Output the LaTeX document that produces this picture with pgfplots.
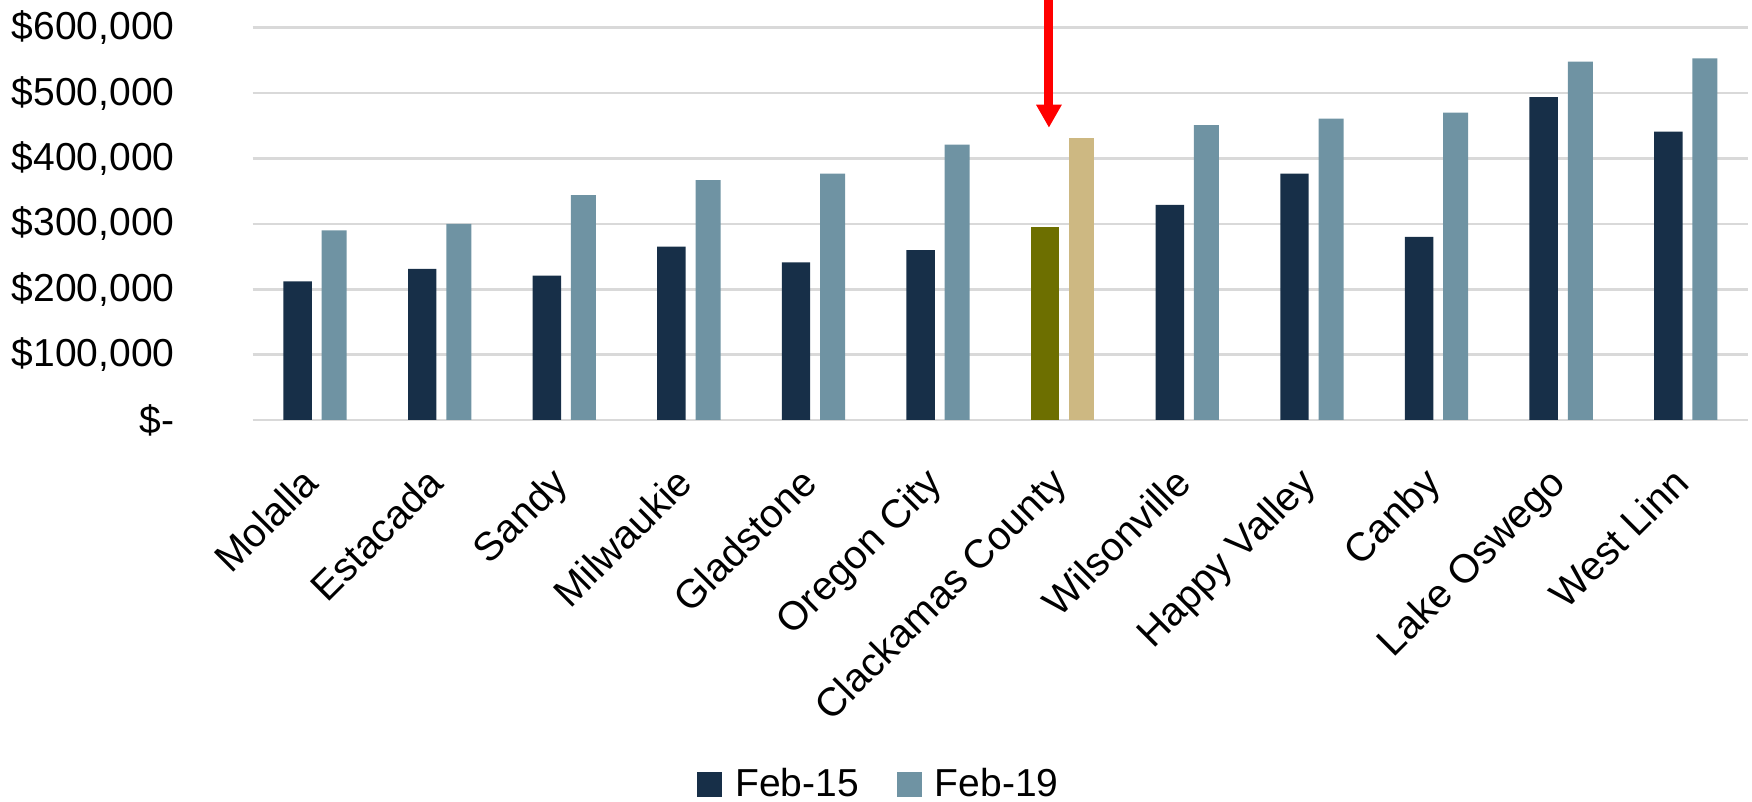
\documentclass[border=0pt]{standalone}
\usepackage{fontspec}
\setmainfont{Liberation Sans}
\usepackage{pgfplots}
\pgfplotsset{compat=1.18}
\usetikzlibrary{arrows.meta}
\definecolor{darkblue}{HTML}{172F48}
\definecolor{lightblue}{HTML}{6F93A3}
\definecolor{olive}{HTML}{6D6F00}
\definecolor{tan}{HTML}{CDB882}
\definecolor{gridgray}{HTML}{D9D9D9}
\newcommand{\tfont}{\fontsize{19.5}{23}\selectfont}
\newcommand{\xfont}{\fontsize{20}{24}\selectfont}
\begin{document}
\begin{tikzpicture}
\begin{axis}[
  scale only axis,
  width=747.65pt, height=196.15pt,
  xmin=-0.5, xmax=11.5,
  ymin=0, ymax=600000,
  scaled y ticks=false,
  clip=false,
  axis line style={draw=none},
  tick style={draw=none},
  ymajorgrids,
  major grid style={draw=gridgray, line width=1.3pt},
  ytick={0,100000,200000,300000,400000,500000,600000},
  yticklabels={{\$-\hspace{8.5pt}},{\$100,000},{\$200,000},{\$300,000},{\$400,000},{\$500,000},{\$600,000}},
  xtick={0,1,2,3,4,5,6,7,8,9,10,11},
  xticklabels={Molalla,Estacada,Sandy,Milwaukie,Gladstone,Oregon City,Clackamas County,Wilsonville,Happy Valley,Canby,Lake Oswego,West Linn},
  yticklabel style={font=\tfont, anchor=east, inner sep=0pt, xshift=-38.85pt},
  xticklabel style={font=\xfont, xshift=3pt, yshift=-32.5pt, rotate=45, anchor=base east, inner sep=0pt},
  legend style={font=\tfont, draw=none, at={(0.4195,-0.928)}, anchor=center, legend columns=2,
    /tikz/every even column/.append style={column sep=17pt}},
  legend cell align=left,
]
\addplot[ybar, bar width=14.2pt, bar shift=-8.7pt, fill=darkblue, draw=none,
  legend image code/.code={\fill[darkblue] (0pt,-6.25pt) rectangle (12.5pt,6.25pt); \path (17pt,0pt);}]
  coordinates {(0,212000) (1,231000) (2,221000) (3,265000) (4,241000) (5,260000)
               (7,329000) (8,377000) (9,280000) (10,494000) (11,441000)};
\addlegendentry{Feb-15}
\addplot[ybar, bar width=12.5pt, bar shift=9.6pt, fill=lightblue, draw=none,
  legend image code/.code={\fill[lightblue] (0pt,-6.25pt) rectangle (12.5pt,6.25pt); \path (17pt,0pt);}]
  coordinates {(0,290000) (1,300000) (2,344000) (3,367000) (4,377000) (5,421000)
               (7,451000) (8,461000) (9,470000) (10,548000) (11,553000)};
\addlegendentry{Feb-19}
\addplot[ybar, bar width=14.2pt, bar shift=-8.7pt, fill=olive, draw=none, forget plot]
  coordinates {(6,295000)};
\addplot[ybar, bar width=12.5pt, bar shift=9.6pt, fill=tan, draw=none, forget plot]
  coordinates {(6,431000)};
\draw[red, line width=4.5pt, -{Triangle[width=12pt,length=11.5pt]}]
  (axis cs:5.89,642000) -- (axis cs:5.89,447000);
\end{axis}
\pgfresetboundingbox
\path[use as bounding box] (-126.35pt,-191pt) rectangle (749.65pt,210pt);
\end{tikzpicture}
\end{document}
